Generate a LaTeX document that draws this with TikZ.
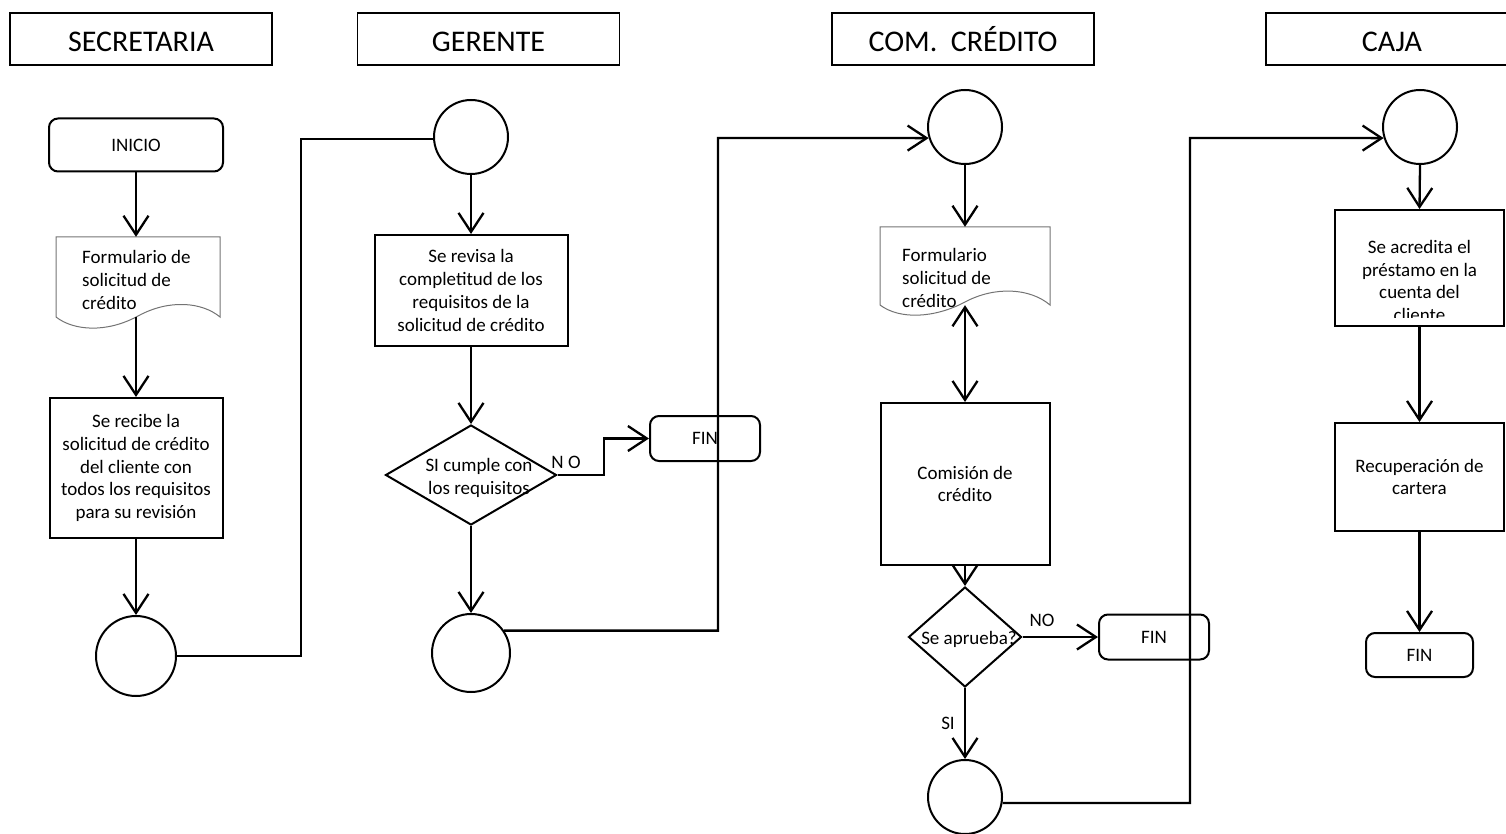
\documentclass[tikz,border=0pt]{standalone}
\usepackage{fontspec}
\setmainfont{Carlito}
\usetikzlibrary{arrows.meta,shapes.geometric}
\begin{document}
\begin{tikzpicture}[x=1pt,y=-1pt,
  txt/.style={font=\fontsize{19}{22.7}\selectfont, align=center, inner sep=0pt},
  hdrtext/.style={font=\fontsize{30}{36}\selectfont, inner sep=0pt,
    text height=25.4pt, text depth=0pt},
  hdr/.style={draw, line width=1.8pt, hdrtext,
    minimum width=262pt, minimum height=52pt},
  procbox/.style={draw, line width=2pt, txt, inner sep=0pt},
  termbox/.style={draw, line width=2pt, rounded corners=9pt, txt, inner sep=0pt},
  junction/.style={draw, circle, line width=2pt, inner sep=0pt},
  decision/.style={draw, diamond, line width=2pt, inner sep=0pt},
  docshape/.style={draw=black!55, line width=1pt},
  link/.style={line width=2.3pt},
  tip/.tip={Straight Barb[length=19pt,width=25pt,line width=2.3pt]},
  flow/.style={line width=2.3pt, -tip},
  biflow/.style={line width=2.3pt, tip-tip},
  lbl/.style={font=\fontsize{19}{22.7}\selectfont, inner sep=0pt}
]
\useasboundingbox (0,0) rectangle (1506,834);

% ---- lane headers ----
\node[hdr] (hsec) at (141,39) {SECRETARIA};
\node[hdr] (hger) at (488.5,39) {GERENTE};
\node[hdr] (hcom) at (963,39) {COM.\ \ CRÉDITO};
\draw[line width=1.8pt] (1506,13) -- (1266,13) -- (1266,65) -- (1506,65);
\node[hdrtext] (hcaja) at (1392,39) {CAJA};

% ---- SECRETARIA ----
\node[termbox, minimum width=174pt, minimum height=53pt] (inicio) at (136,145) {INICIO};
\draw[docshape] (56,237) -- (220,237) -- (220,317)
  .. controls (202,302) and (169,299) .. (138,316)
  .. controls (107,333) and (74,331) .. (56,317) -- cycle;
\node[minimum width=164pt, minimum height=80pt, inner sep=0pt] (doc1) at (136,277) {};
\node[txt, align=left, anchor=west] (doc1txt) at (82,280) {Formulario de\\solicitud de\\crédito};
\node[procbox, minimum width=173pt, minimum height=140pt] (recv) at (136,468)
  {Se recibe la\\solicitud de crédito\\del cliente con\\todos los requisitos\\para su revisión};
\node[junction, minimum size=80pt] (c1) at (136,656) {};

% ---- GERENTE ----
\node[junction, minimum size=74pt] (g1) at (471,137) {};
\node[procbox, minimum width=193pt, minimum height=111pt] (rev) at (471,290.5)
  {Se revisa la\\completitud de los\\requisitos de la\\solicitud de crédito};
\node[decision, minimum width=171pt, minimum height=100pt] (dia1) at (471,475) {};
\node[txt] (dia1txt) at (479,478) {SI cumple con\\los requisitos};
\node[lbl] (lno1) at (566,462) {N O};
\node[termbox, minimum width=110pt, minimum height=45pt] (fin1) at (705,438.5) {FIN};
\node[junction, minimum size=78pt] (g2) at (471,653) {};

% ---- COM. CREDITO ----
\node[junction, minimum size=74pt] (cc1) at (965,127) {};
\draw[docshape] (880,227) -- (1050,227) -- (1050,305)
  .. controls (1030,288) and (995,286) .. (965,302)
  .. controls (935,318) and (900,320) .. (880,305) -- cycle;
\node[minimum width=170pt, minimum height=78pt, inner sep=0pt] (doc2) at (965,266) {};
\node[txt, align=left, anchor=west] (doc2txt) at (902,278) {Formulario\\solicitud de\\crédito};
\node[procbox, minimum width=169pt, minimum height=162pt] (com) at (965,484) {Comisión de\\crédito};
\node[decision, minimum width=113pt, minimum height=100pt] (dia2) at (965,637) {};
\node[txt] (dia2txt) at (969,639) {Se aprueba?};
\node[termbox, minimum width=110pt, minimum height=45pt] (fin2) at (1154,637) {FIN};
\node[lbl] (lno2) at (1042,620) {NO};
\node[lbl] (lsi) at (948,723) {SI};
\node[junction, minimum size=74pt] (cc2) at (965,797) {};

% ---- CAJA ----
\node[junction, minimum size=74pt] (k1) at (1420,127) {};
\node[draw, line width=2pt, minimum width=169pt, minimum height=116pt, inner sep=0pt] (acr) at (1419.5,268) {};
\begin{scope}
  \clip (1337,212) rectangle (1502,317.5);
  \node[txt, anchor=north] (acrtxt) at (1419.5,240) {Se acredita el\\préstamo en la\\cuenta del\\cliente};
\end{scope}
\node[procbox, minimum width=169pt, minimum height=108pt] (rec) at (1419.5,477) {Recuperación de\\cartera};
\node[termbox, minimum width=107pt, minimum height=44pt] (fin3) at (1419.5,655) {FIN};

% ---- routing points ----
\coordinate (j1) at (301,139);
\coordinate (j2) at (604,438.5);
\coordinate (j3) at (718,138);
\coordinate (j4) at (1190,138);

% ---- connectors ----
\draw[flow] (inicio.south) -- (doc1.north);
\draw[flow] (doc1.south) -- (recv.north);
\draw[flow] (recv.south) -- (c1.north);
\draw[link] (c1.east) -| (j1) -- (g1.west |- j1);

\draw[flow] (g1.south) -- (rev.north);
\draw[flow] (rev.south) -- (dia1.north);
\draw[flow] (dia1.east) -| (j2) -- (fin1.west);
\draw[flow] (dia1.south) -- (g2.north);
\draw[flow] (g2.34) -| (j3) -- (cc1.197);

\draw[flow] (cc1.south) -- (doc2.north);
\draw[biflow] (doc2.south) -- (com.north);
\draw[flow] (com.south) -- (dia2.north);
\draw[flow] (dia2.east) -- (fin2.west);
\draw[flow] (dia2.south) -- (cc2.north);
\draw[flow] (cc2.-9) -| (j4) -- (k1.197);

\draw[flow] (k1.south) -- (acr.north);
\draw[flow] (acr.south) -- (rec.north);
\draw[flow] (rec.south) -- (fin3.north);
\end{tikzpicture}
\end{document}
